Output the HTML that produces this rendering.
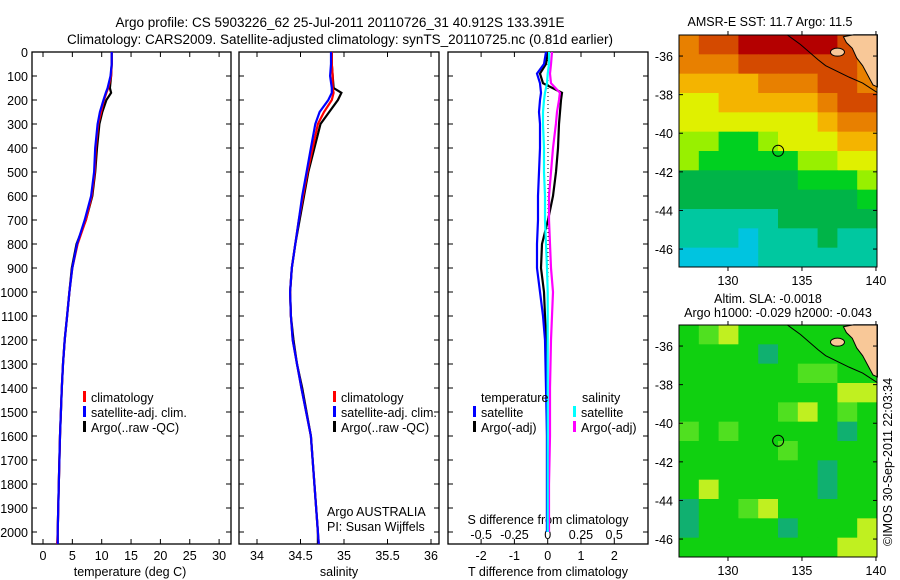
<!DOCTYPE html>
<html><head><meta charset="utf-8"><style>
body{margin:0;background:#fff;width:900px;height:580px;overflow:hidden}
svg{display:block;font-family:"Liberation Sans",sans-serif}
text{font-size:12.5px;fill:#000}
</style></head><body>
<svg id="c" width="900" height="580">
<text x="340" y="27" text-anchor="middle" style="font-size:13.5px">Argo profile: CS 5903226_62 25-Jul-2011 20110726_31 40.912S 133.391E</text>
<text x="340" y="44" text-anchor="middle" style="font-size:13.5px">Climatology: CARS2009. Satellite-adjusted climatology: synTS_20110725.nc (0.81d earlier)</text>
</svg>
<script>
// ---- data ----
const depths=[0,50,100,150,170,200,250,300,400,500,600,700,800,900,1000,1100,1200,1300,1400,1600,1800,2000,2050];
const tempClim=[11.7,11.7,11.6,11.1,10.8,10.4,9.9,9.4,9.0,8.8,8.3,7.3,5.9,5.0,4.5,4.1,3.7,3.4,3.2,2.9,2.7,2.5,2.4];
const tempSat=[11.7,11.7,11.5,11.0,10.7,10.3,9.7,9.3,8.9,8.7,8.2,7.1,5.8,5.0,4.5,4.1,3.7,3.4,3.2,2.9,2.7,2.5,2.5];
const tempArgo=[11.7,11.7,11.6,11.4,11.6,10.8,10.1,9.6,9.2,8.9,8.4,7.3,5.7,4.9,4.5,4.1,3.7,3.4,3.2,2.9,2.7,2.5,2.5];
const salClim=[34.86,34.86,34.87,34.87,34.88,34.86,34.77,34.70,34.64,34.58,34.53,34.48,34.44,34.40,34.38,34.39,34.41,34.46,34.51,34.62,34.66,34.70,34.71];
const salSat=[34.85,34.85,34.84,34.86,34.86,34.82,34.72,34.67,34.62,34.57,34.52,34.48,34.44,34.40,34.38,34.39,34.41,34.46,34.51,34.62,34.66,34.70,34.71];
const salArgo=[34.86,34.86,34.87,34.88,34.97,34.93,34.83,34.73,34.66,34.59,34.54,34.49,34.44,34.40,34.38,34.39,34.42,34.46,34.52,34.62,34.66,34.70,34.70];
const dDepths=[0,50,90,130,170,200,250,300,400,500,600,700,800,900,1000,1100,1200,1400,1600,1800,2000];
const tDiffArgo=[0.01,-0.05,-0.23,-0.14,0.43,0.40,0.37,0.34,0.31,0.25,0.16,0.01,-0.17,-0.2,-0.11,-0.08,-0.05,-0.02,-0.02,-0.02,-0.02];
const tDiffSat=[-0.05,-0.11,-0.32,-0.23,-0.2,-0.23,-0.26,-0.23,-0.23,-0.26,-0.29,-0.29,-0.32,-0.32,-0.23,-0.14,-0.08,-0.05,-0.02,-0.02,-0.02];
const sDiffSat=[0.01,0.01,0,-0.005,-0.02,-0.028,-0.035,-0.035,-0.028,-0.028,-0.02,-0.02,-0.013,-0.005,0,0,0,0,0,0,0];
const sDiffArgo=[0.032,0.025,0.017,0.025,0.092,0.085,0.07,0.062,0.04,0.025,0.01,0.01,0.017,0.025,0.04,0.032,0.025,0.017,0.017,0.01,0.01];
const depthTicks=[0,100,200,300,400,500,600,700,800,900,1000,1100,1200,1300,1400,1500,1600,1700,1800,1900,2000];
const tempTicks=[0,5,10,15,20,25,30];
const salTicks=[34,34.5,35,35.5,36];
const salTickLabels=["34","34.5","35","35.5","36"];
const tdTicks=[-2,-1,0,1,2];
const sdTicks=[-0.5,-0.25,0,0.25,0.5];
const sdTickLabels=["-0.5","-0.25","0","0.25","0.5"];
const latTicks=[-36,-38,-40,-42,-44,-46];
const lonTicks=[130,135,140];
// SST class grid (rows from -34.9 southward, 10 cols), -1 = land
const sstGrid=[
[2,1,1,0,0,0,0,0,1,-1],
[2,2,2,1,1,1,1,1,1,2],
[3,3,3,3,2,2,2,1,1,2],
[4,4,3,3,3,3,3,2,1,1],
[4,4,4,4,4,4,4,3,2,2],
[5,5,6,6,5,4,4,4,3,3],
[5,6,6,6,6,6,5,5,4,4],
[7,7,7,7,7,7,6,6,6,5],
[7,7,7,7,7,7,7,7,7,6],
[8,8,8,8,8,7,7,7,7,7],
[8,8,8,9,8,8,8,7,8,8],
[9,9,9,9,8,8,8,8,8,8]];
const slaGrid=[
[1,2,3,1,1,1,1,1,1,1],
[1,1,1,1,0,1,1,1,1,1],
[1,1,1,1,1,1,2,2,1,1],
[1,1,1,1,1,1,1,1,3,3],
[1,1,1,1,1,2,3,1,2,1],
[2,1,2,1,1,1,1,1,0,1],
[1,1,1,1,1,2,1,1,1,1],
[1,1,1,1,1,1,1,0,1,1],
[1,3,1,1,1,1,1,0,1,1],
[0,1,1,2,3,1,1,1,1,1],
[0,1,1,1,1,0,1,1,1,3],
[1,1,1,1,1,1,1,1,3,3]];
const sstColors=["#b40000","#d44a00","#e88000","#f4b400","#e0f000","#98f000","#00d020","#00b448","#00c8a0","#00c4e0"];
const slaColors=["#10b070","#10d010","#50e020","#c0f020"];
const landLon=[138.5,140.1,140.1,139.8,139.1,138.7,138.4,138.0,137.8];
const landLat=[-34.9,-34.9,-37.6,-37.5,-36.5,-36.1,-35.6,-35.3,-35.0];
const coastLon=[134.0,134.9,136.1,136.6,138.2,139.1,140.1];
const coastLat=[-34.9,-35.4,-36.2,-36.5,-37.1,-37.4,-37.9];
const argoLon=133.39, argoLat=-40.91;

const S='http://www.w3.org/2000/svg', svg=document.getElementById('c');
function el(t,a,p){const e=document.createElementNS(S,t);for(const k in a)e.setAttribute(k,a[k]);(p||svg).appendChild(e);return e;}
function txt(x,y,s,anchor,extra){const e=el('text',Object.assign({x:x,y:y,'text-anchor':anchor||'start'},extra||{}));e.textContent=s;return e;}
const Y0=52,YS=0.24;const dy=d=>Y0+d*YS;
function frame(x0,x1,name){
 const r=el('rect',{x:x0,y:52,width:x1-x0,height:492,fill:'none',stroke:'#000','stroke-width':1.3});
 
 
 depthTicks.forEach(d=>{el('line',{x1:x0,x2:x0+5,y1:dy(d),y2:dy(d),stroke:'#000'});el('line',{x1:x1-5,x2:x1,y1:dy(d),y2:dy(d),stroke:'#000'});});
}
function series(xs,vals,fx,color,name,dd,w){
 const pts=vals.map((v,i)=>fx(v).toFixed(1)+','+dy((dd||depths)[i]).toFixed(1)).join(' ');
 const p=el('polyline',{points:pts,fill:'none',stroke:color,'stroke-width':w||2.2});
 
 
}
// panel 1
const ft=v=>43+v*5.87;
frame(32,231,'temperature-plot-frame');
depthTicks.forEach(d=>{const t=txt(28,dy(d)+5,String(d),'end');});
tempTicks.forEach(v=>{el('line',{x1:ft(v),x2:ft(v),y1:544,y2:539,stroke:'#000'});el('line',{x1:ft(v),x2:ft(v),y1:52,y2:57,stroke:'#000'});const t=txt(ft(v),560,String(v),'middle');});
txt(130,576,'temperature (deg C)','middle',{});
series(0,tempArgo,ft,'#000','temp-argo-line');
series(0,tempClim,ft,'#f00','temp-climatology-line');
series(0,tempSat,ft,'#00f','temp-satellite-line');
// panel 2
const fs=v=>257+(v-34)*87;
frame(239,439,'salinity-plot-frame');
salTicks.forEach((v,i)=>{el('line',{x1:fs(v),x2:fs(v),y1:544,y2:539,stroke:'#000'});el('line',{x1:fs(v),x2:fs(v),y1:52,y2:57,stroke:'#000'});const t=txt(fs(v),560,salTickLabels[i],'middle');});
txt(339,576,'salinity','middle',{});
series(0,salArgo,fs,'#000','salinity-argo-line');
series(0,salClim,fs,'#f00','salinity-climatology-line');
series(0,salSat,fs,'#00f','salinity-satellite-line');
txt(327,516,'Argo AUSTRALIA','start',{});
txt(327,531,'PI: Susan Wijffels','start',{});
// panel 3
const fT=v=>547.7+v*33.3, fS=v=>547.7+v*133;
frame(448,648,'difference-plot-frame');
tdTicks.forEach(v=>{el('line',{x1:fT(v),x2:fT(v),y1:544,y2:539,stroke:'#000'});el('line',{x1:fT(v),x2:fT(v),y1:52,y2:57,stroke:'#000'});const t=txt(fT(v),560,String(v),'middle');});
sdTicks.forEach((v,i)=>{const t=txt(fS(v),539,sdTickLabels[i],'middle');});
txt(548,524,'S difference from climatology','middle',{});
txt(548,576,'T difference from climatology','middle',{});
el('line',{x1:548,x2:548,y1:60,y2:300,stroke:'#000','stroke-dasharray':'1,3'});
series(0,tDiffArgo,fT,'#000','t-diff-argo-line',dDepths);
series(0,sDiffArgo,fS,'#f0f','s-diff-argo-line',dDepths);
series(0,tDiffSat,fT,'#00f','t-diff-satellite-line',dDepths);
series(0,sDiffSat,fS,'#0ff','s-diff-satellite-line',dDepths);
// legends
function leg(x,y,c,s,name){el('rect',{x:x,y:y-11,width:3,height:11,fill:c});const t=txt(x+8,y,s,'start');}
leg(83,402,'#f00','climatology','legend-climatology');
leg(83,417,'#00f','satellite-adj. clim.','legend-satellite');
leg(83,432,'#000','Argo(..raw -QC)','legend-argo');
leg(333,402,'#f00','climatology','legend2-climatology');
leg(333,417,'#00f','satellite-adj. clim.','legend2-satellite');
leg(333,432,'#000','Argo(..raw -QC)','legend2-argo');
txt(481,402,'temperature','start',{});
txt(582,402,'salinity','start',{});
leg(473,417,'#00f','satellite','legend-t-satellite');
leg(473,432,'#000','Argo(-adj)','legend-t-argo');
leg(573,417,'#0ff','satellite','legend-s-satellite');
leg(573,432,'#f0f','Argo(-adj)','legend-s-argo');
// maps
function map(top,grid,cols,name,title1,title2){
 const X0=679,X1=877,LON0=126.69,LON1=140.07,LAT0=-34.91,LAT1=-46.93,bot=top+232;
 const fx=l=>X0+(l-LON0)/(LON1-LON0)*(X1-X0), fy=l=>top+(l-LAT0)/(LAT1-LAT0)*(bot-top);
 const g=el('g',{});
 const nr=grid.length,nc=grid[0].length,cw=(X1-X0)/nc,ch=(bot-top)/nr;
 grid.forEach((row,r)=>row.forEach((v,c)=>{el('rect',{x:X0+c*cw,y:top+r*ch,width:cw+0.5,height:ch+0.5,fill:v<0?'#f8c898':cols[v]},g);}));
 el('polygon',{points:landLon.map((l,i)=>fx(l)+','+fy(landLat[i])).join(' '),fill:'#f8c898',stroke:'#000','stroke-width':1},g);
 el('ellipse',{cx:fx(137.4),cy:fy(-35.8),rx:7,ry:4,fill:'#f8c898',stroke:'#000'},g);
 el('polyline',{points:coastLon.map((l,i)=>fx(l)+','+fy(coastLat[i])).join(' '),fill:'none',stroke:'#000'},g);
 const m=el('circle',{cx:fx(argoLon),cy:fy(argoLat),r:5.5,fill:'none',stroke:'#000'},g);
 
 
 el('rect',{x:X0,y:top,width:X1-X0,height:bot-top,fill:'none',stroke:'#000'},g);
 latTicks.forEach(l=>{el('line',{x1:X0,x2:X0+4,y1:fy(l),y2:fy(l),stroke:'#000'});el('line',{x1:X1-4,x2:X1,y1:fy(l),y2:fy(l),stroke:'#000'});const t=txt(673,fy(l)+5,String(l),'end');});
 lonTicks.forEach(l=>{el('line',{x1:fx(l),x2:fx(l),y1:top,y2:top-4,stroke:'#000'});el('line',{x1:fx(l),x2:fx(l),y1:bot,y2:bot+4,stroke:'#000'});const t=txt(fx(l),bot+18,String(l),'middle');});
 if(title2){txt(768,top-22,title1,'middle',{});txt(778,top-8,title2,'middle',{});}
 else txt(770,top-9,title1,'middle',{});
}
map(35,sstGrid,sstColors,'sst-map','AMSR-E SST: 11.7 Argo: 11.5');
map(325,slaGrid,slaColors,'sla-map','Altim. SLA: -0.0018','Argo h1000: -0.029 h2000: -0.043');
txt(0,0,'©IMOS 30-Sep-2011 22:03:34','middle',{transform:'translate(892,462) rotate(-90)',});
</script>
</body></html>
